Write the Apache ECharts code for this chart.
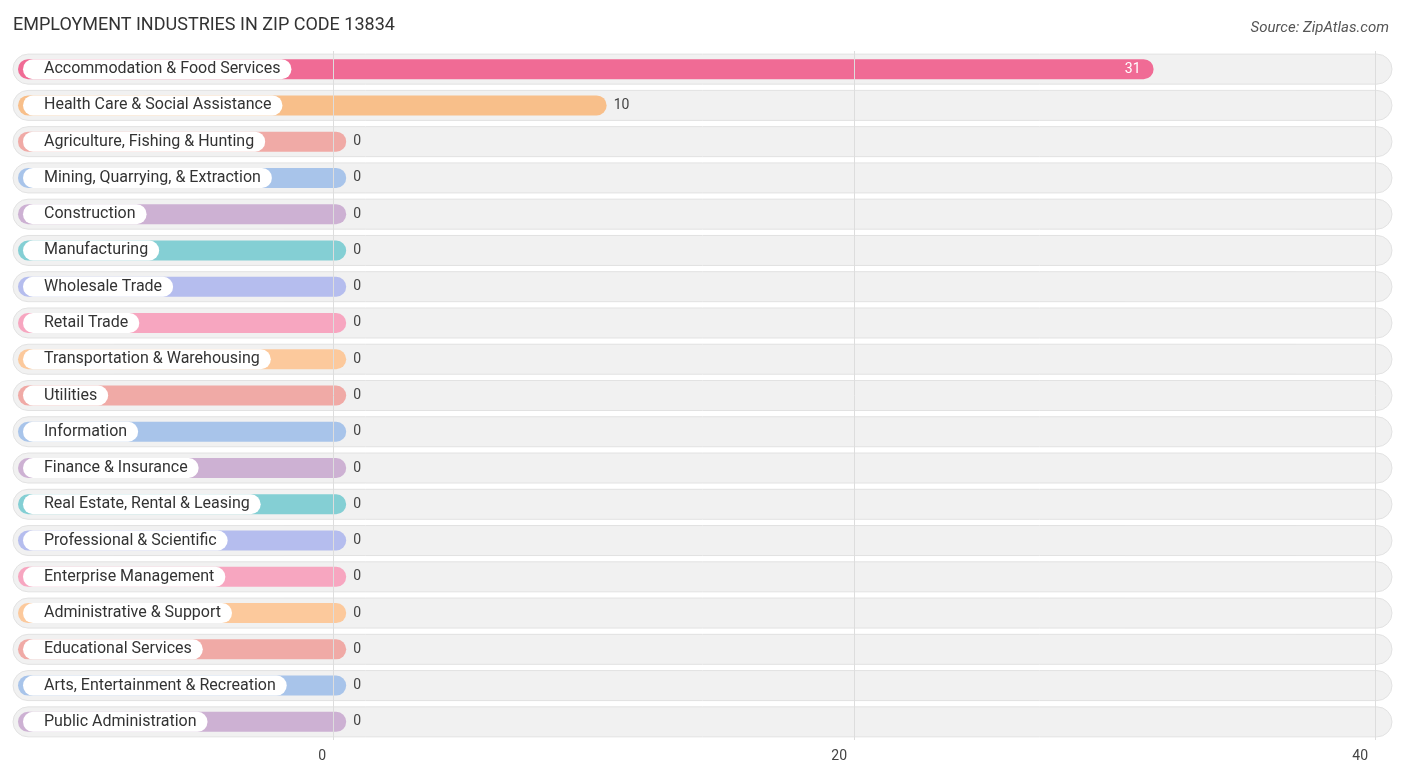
<!DOCTYPE html><html><head><meta charset="utf-8"><script src="https://cdn.jsdelivr.net/npm/echarts@6/dist/echarts.min.js"></script>
<style>html,body{margin:0;padding:0;background:#fff}#c{width:1406px;height:776px}</style></head><body><div id="c"></div><script>
const categories=["Accommodation & Food Services","Health Care & Social Assistance","Agriculture, Fishing & Hunting","Mining, Quarrying, & Extraction","Construction","Manufacturing","Wholesale Trade","Retail Trade","Transportation & Warehousing","Utilities","Information","Finance & Insurance","Real Estate, Rental & Leasing","Professional & Scientific","Enterprise Management","Administrative & Support","Educational Services","Arts, Entertainment & Recreation","Public Administration"];
const values=[31,10,0,0,0,0,0,0,0,0,0,0,0,0,0,0,0,0,0];
const colors=["#f06b95","#f8bf8a","#f0aaa6","#a8c4ea","#cdb1d3","#84cfd4","#b5bdee","#f7a6c0","#fcc99c","#f0aaa6","#a8c4ea","#cdb1d3","#84cfd4","#b5bdee","#f7a6c0","#fcc99c","#f0aaa6","#a8c4ea","#cdb1d3"];
const tickValues=[0,20,40];
const AXMIN=-12.1, AXMAX=40;
const chart=echarts.init(document.getElementById('c'));
chart.setOption({
 animation:false,
 title:[{text:'EMPLOYMENT INDUSTRIES IN ZIP CODE 13834',left:8,top:11,textStyle:{fontFamily:'Roboto',fontSize:18,fontWeight:'normal',color:'#333'}},
 {text:'Source: ZipAtlas.com',right:12,top:16,textStyle:{fontFamily:'Roboto',fontSize:15,fontStyle:'italic',fontWeight:'normal',color:'#555'}}],
 grid:{left:18,right:31,top:51,bottom:36},
 xAxis:{type:'value',min:AXMIN,max:AXMAX,axisLine:{show:false},axisTick:{show:false},splitLine:{show:false},
  axisLabel:{customValues:tickValues,fontFamily:'Roboto',fontSize:14,color:'#444',margin:9,align:'right',padding:[0,7,0,0]}},
 yAxis:{type:'category',data:categories,inverse:true,show:false},
 series:[{type:'custom',data:values.map((v,i)=>[v,i]),encode:{x:0,y:1},z:3,
  renderItem:function(params,api){
   const v=api.value(0), i=api.value(1);
   const c=api.coord([0,i]); const y=c[1];
   const x0=api.coord([AXMIN,i])[0];
   const xe=api.coord([v+0.5,i])[0];
   const bgR=api.coord([AXMAX,i])[0]+17;
   const ch=[
    {type:'rect',z2:0,shape:{x:x0-5,y:y-15,width:bgR-(x0-5),height:30,r:15},style:{fill:'#f1f1f1',stroke:'#e2e2e2',lineWidth:1}},
    {type:'rect',z2:2,shape:{x:x0,y:y-10,width:xe-x0,height:20,r:10},style:{fill:colors[i]}},
    {type:'text',z2:3,x:x0+5,y:y,style:{text:categories[i],fill:'#333',fontFamily:'Roboto',fontSize:16,verticalAlign:'middle',backgroundColor:'#fff',borderRadius:11,padding:[2,11,2,21]}},
   ];
   if(v>20) ch.push({type:'text',z2:3,x:xe-13,y:y,style:{text:String(v),fill:'#fff',fontFamily:'Roboto',fontSize:14,align:'right',verticalAlign:'middle'}});
   else ch.push({type:'text',z2:3,x:xe+7,y:y,style:{text:String(v),fill:'#444',fontFamily:'Roboto',fontSize:14,align:'left',verticalAlign:'middle'}});
   return {type:'group',children:ch};
  }},
  {type:'line',data:[],z:4,markLine:{silent:true,symbol:'none',label:{show:false},lineStyle:{color:'#ddd',type:'solid',width:1},data:tickValues.map(t=>({xAxis:t}))}}
 ]
});
</script></body></html>
